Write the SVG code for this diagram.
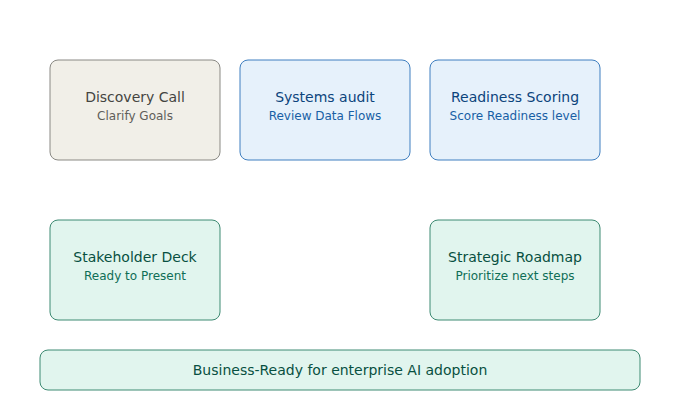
<svg xmlns="http://www.w3.org/2000/svg" width="680" height="410" viewBox="0 0 680 410">
<style>
text{font-family:"DejaVu Sans","Noto Sans",sans-serif;text-anchor:middle;dominant-baseline:central}
.t{font-size:14px}
.s{font-size:12px}
.gray rect{fill:#f1efe8;stroke:#8a8984;stroke-width:1}
.gray .t{fill:#444441}.gray .s{fill:#5f5e5a}
.blue rect{fill:#e6f1fb;stroke:#3f7fc0;stroke-width:1}
.blue .t{fill:#0c447c}.blue .s{fill:#185fa5}
.green rect{fill:#e1f5ee;stroke:#3d8a72;stroke-width:1}
.green .t{fill:#085041}.green .s{fill:#0f6e56}
</style>
<rect width="680" height="410" fill="#ffffff"/>
<g id="connectors"></g>
<g id="discovery" class="gray"><rect x="50" y="60" width="170" height="100" rx="8"/><text class="t" x="135" y="97">Discovery Call</text><text class="s" x="135" y="116">Clarify Goals</text></g>
<g id="audit" class="blue"><rect x="240" y="60" width="170" height="100" rx="8"/><text class="t" x="325" y="97">Systems audit</text><text class="s" x="325" y="116">Review Data Flows</text></g>
<g id="scoring" class="blue"><rect x="430" y="60" width="170" height="100" rx="8"/><text class="t" x="515" y="97">Readiness Scoring</text><text class="s" x="515" y="116">Score Readiness level</text></g>
<g id="deck" class="green"><rect x="50" y="220" width="170" height="100" rx="8"/><text class="t" x="135" y="257">Stakeholder Deck</text><text class="s" x="135" y="276">Ready to Present</text></g>
<g id="roadmap" class="green"><rect x="430" y="220" width="170" height="100" rx="8"/><text class="t" x="515" y="257">Strategic Roadmap</text><text class="s" x="515" y="276">Prioritize next steps</text></g>
<g id="outcome" class="green"><rect x="40" y="350" width="600" height="40" rx="8"/><text class="t" x="340" y="370">Business-Ready for enterprise AI adoption</text></g>
</svg>
